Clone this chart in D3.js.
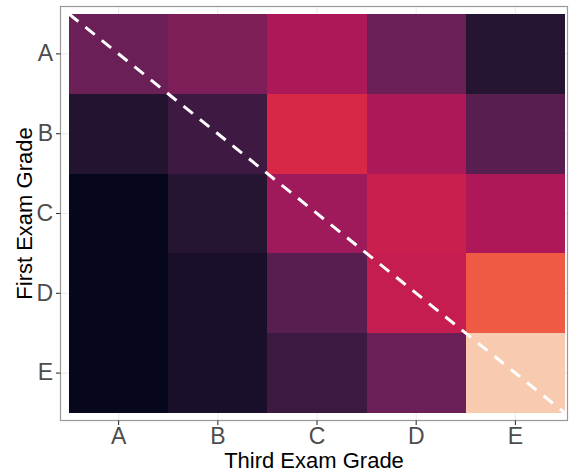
<!DOCTYPE html>
<html>
<head>
<meta charset="utf-8">
<script src="https://cdn.jsdelivr.net/npm/d3@7"></script>
<style>
  body { margin: 0; background: #fff; }
  text { font-family: "Liberation Sans", Arial, sans-serif; }
</style>
</head>
<body>
<svg width="569" height="472"></svg>
<script>
// grades on each axis
const thirdGrades = ["A", "B", "C", "D", "E"];
const firstGrades = ["A", "B", "C", "D", "E"];

// fill value per cell, rows = first exam grade, columns = third exam grade
const cellValues = [
  [30, 35, 47, 30, 11],
  [10, 18, 60, 47, 25],
  [1, 11, 43, 55, 47.5],
  [1, 7, 25, 54, 72],
  [1, 7, 17, 30, 95]
];

// rocket-like palette stops
const paletteStops = [0, 10, 20, 30, 40, 50, 60, 70, 80, 90, 100];
const paletteColors = ["#03051A", "#221331", "#451C47", "#6A1F56", "#921C5B", "#B91657",
                       "#D92847", "#ED513E", "#F47F58", "#F6AA82", "#FAEBDD"];

const svg = d3.select("svg");
const panel = {left: 60.5, right: 567.5, top: 6.5, bottom: 420.5};
const tileArea = {left: 69, right: 565, top: 14, bottom: 413};

const x = d3.scaleBand().domain(thirdGrades).range([tileArea.left, tileArea.right]).padding(0);
const y = d3.scaleBand().domain(firstGrades).range([tileArea.top, tileArea.bottom]).padding(0);
const color = d3.scaleLinear().domain(paletteStops).range(paletteColors).interpolate(d3.interpolateRgb);

const cells = [];
firstGrades.forEach((f, i) => thirdGrades.forEach((t, j) => cells.push({first: f, third: t, value: cellValues[i][j]})));

// grid lines
const grid = svg.append("g");
grid.selectAll(".vx").data(thirdGrades).enter().append("line")
  .attr("x1", d => x(d) + x.bandwidth() / 2).attr("x2", d => x(d) + x.bandwidth() / 2)
  .attr("y1", panel.top).attr("y2", panel.bottom)
  .attr("stroke", "#EBEBEB").attr("stroke-width", 1.1);
grid.selectAll(".hy").data(firstGrades).enter().append("line")
  .attr("y1", d => y(d) + y.bandwidth() / 2).attr("y2", d => y(d) + y.bandwidth() / 2)
  .attr("x1", panel.left).attr("x2", panel.right)
  .attr("stroke", "#EBEBEB").attr("stroke-width", 1.1);

// tiles
svg.append("g").selectAll("rect").data(cells).enter().append("rect")
  .attr("x", d => x(d.third))
  .attr("y", d => y(d.first))
  .attr("width", x.bandwidth())
  .attr("height", y.bandwidth())
  .attr("fill", d => color(d.value))
  .attr("shape-rendering", "crispEdges");

// diagonal reference line
svg.append("line")
  .attr("x1", x("A")).attr("y1", y("A"))
  .attr("x2", x("E") + x.bandwidth()).attr("y2", y("E") + y.bandwidth())
  .attr("stroke", "#fff").attr("stroke-width", 3)
  .attr("stroke-dasharray", "12,9");

// panel border
svg.append("rect")
  .attr("x", panel.left).attr("y", panel.top)
  .attr("width", panel.right - panel.left).attr("height", panel.bottom - panel.top)
  .attr("fill", "none").attr("stroke", "#999").attr("stroke-width", 1.2);

// axes
const xAxis = svg.append("g")
  .attr("transform", "translate(0," + panel.bottom + ")")
  .call(d3.axisBottom(x).tickSize(4.5).tickPadding(3));
const yAxis = svg.append("g")
  .attr("transform", "translate(" + panel.left + ",0)")
  .call(d3.axisLeft(y).tickSize(4.5).tickPadding(3));
[xAxis, yAxis].forEach(a => {
  a.select(".domain").remove();
  a.selectAll(".tick line").attr("stroke", "#333").attr("stroke-width", 1.1);
  a.selectAll(".tick text").attr("fill", "#4D4D4D").style("font-size", "23px")
    .style("font-family", "'Liberation Sans', Arial, sans-serif");
});

// axis titles
svg.append("text")
  .attr("x", (panel.left + panel.right) / 2).attr("y", 468)
  .attr("text-anchor", "middle").style("font-size", "22px").attr("fill", "#000")
  .text("Third Exam Grade");
svg.append("text")
  .attr("transform", "translate(32," + ((panel.top + panel.bottom) / 2) + ") rotate(-90)")
  .attr("text-anchor", "middle").style("font-size", "22px").attr("fill", "#000")
  .text("First Exam Grade");
</script>
</body>
</html>
